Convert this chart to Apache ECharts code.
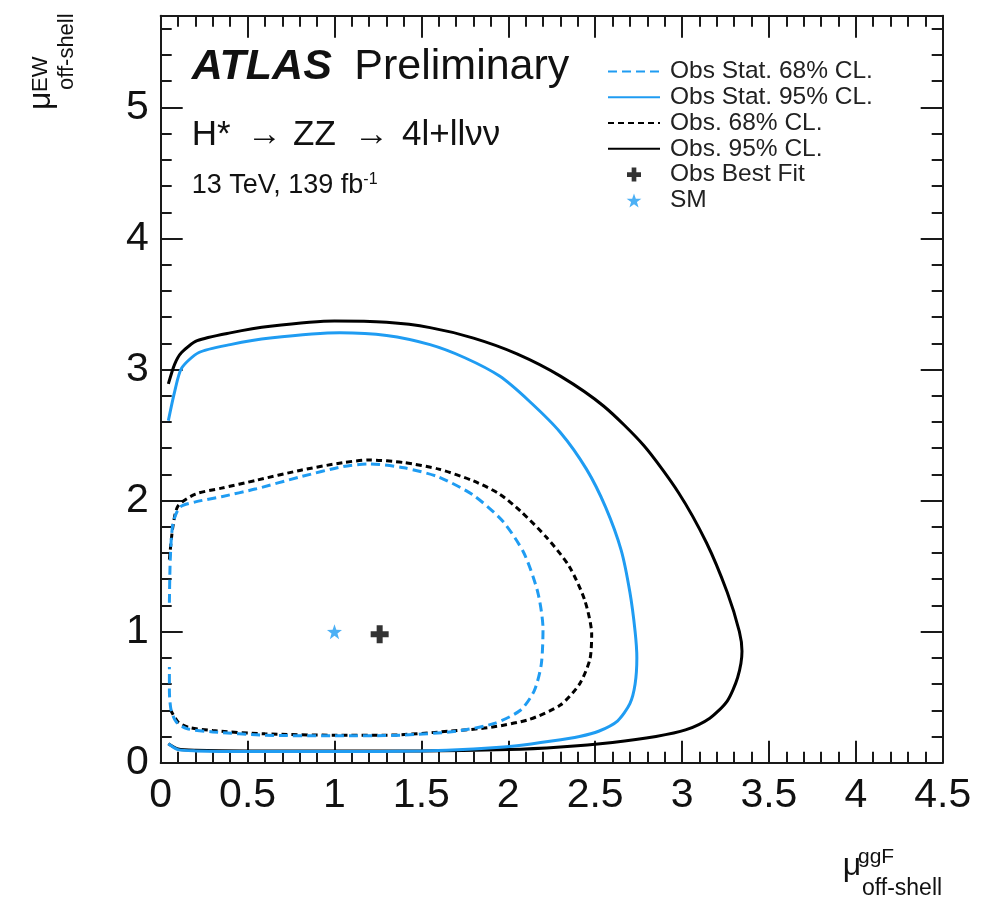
<!DOCTYPE html>
<html>
<head>
<meta charset="utf-8">
<script src="https://cdn.jsdelivr.net/npm/echarts@6/dist/echarts.min.js"></script>
<style>
  html, body { margin: 0; padding: 0; background: #fff; }
  #chart { width: 981px; height: 898px; }
</style>
</head>
<body>
<div id="chart"></div>
<script>
// Two-parameter likelihood contours: mu_ggF (x) vs mu_EW (y), off-shell signal strengths.
// Each contour is an open path that starts and ends on the left edge of the scan range.

const xTicks = [0, 0.5, 1, 1.5, 2, 2.5, 3, 3.5, 4, 4.5];
const yTicks = [0, 1, 2, 3, 4, 5];

// Obs. 95% CL. (stat + syst)
const obs95 = [
  [0.044, 2.89], [0.08, 3.04], [0.12, 3.13], [0.21, 3.22], [0.40, 3.28], [0.63, 3.33],
  [1.00, 3.37], [1.30, 3.36], [1.55, 3.32], [1.80, 3.24], [2.05, 3.12], [2.30, 2.95],
  [2.55, 2.72], [2.78, 2.42], [2.98, 2.06], [3.14, 1.68], [3.26, 1.30], [3.33, 1.00],
  [3.345, 0.85], [3.32, 0.65], [3.26, 0.47], [3.16, 0.34], [3.02, 0.25], [2.85, 0.20],
  [2.60, 0.155], [2.30, 0.12], [2.00, 0.10], [1.50, 0.09], [1.00, 0.09], [0.50, 0.09],
  [0.20, 0.095], [0.10, 0.105], [0.044, 0.145]
];

// Obs. 68% CL. (stat + syst)
const obs68 = [
  [0.05, 1.55], [0.07, 1.80], [0.10, 1.96], [0.20, 2.05], [0.35, 2.095], [0.55, 2.155],
  [0.80, 2.23], [1.05, 2.29], [1.20, 2.31], [1.40, 2.29], [1.60, 2.24], [1.80, 2.15],
  [1.95, 2.05], [2.07, 1.92], [2.22, 1.72], [2.35, 1.50], [2.44, 1.24], [2.48, 0.98],
  [2.47, 0.79], [2.41, 0.60], [2.30, 0.44], [2.12, 0.33], [1.90, 0.27], [1.66, 0.24],
  [1.30, 0.21], [1.00, 0.21], [0.60, 0.22], [0.30, 0.245], [0.16, 0.27], [0.10, 0.31],
  [0.05, 0.42]
];

// Obs Stat. 95% CL. (stat only)
const obsStat95 = [
  [0.044, 2.61], [0.08, 2.83], [0.12, 3.01], [0.22, 3.13], [0.40, 3.19], [0.63, 3.24],
  [1.03, 3.28], [1.30, 3.26], [1.55, 3.19], [1.75, 3.09], [1.95, 2.95], [2.12, 2.76],
  [2.30, 2.52], [2.45, 2.24], [2.56, 1.95], [2.65, 1.62], [2.70, 1.30], [2.73, 1.00],
  [2.74, 0.80], [2.73, 0.60], [2.70, 0.45], [2.63, 0.32], [2.52, 0.24], [2.41, 0.20],
  [2.25, 0.165], [2.05, 0.13], [1.80, 0.105], [1.50, 0.09], [1.00, 0.085], [0.50, 0.085],
  [0.20, 0.09], [0.10, 0.10], [0.044, 0.145]
];

// Obs Stat. 68% CL. (stat only)
const obsStat68 = [
  [0.05, 1.22], [0.055, 1.55], [0.07, 1.82], [0.11, 1.95], [0.20, 1.99], [0.35, 2.03],
  [0.55, 2.09], [0.80, 2.18], [1.05, 2.26], [1.20, 2.28], [1.40, 2.25], [1.60, 2.18],
  [1.80, 2.04], [1.97, 1.84], [2.09, 1.60], [2.17, 1.30], [2.20, 1.02], [2.19, 0.75],
  [2.15, 0.55], [2.07, 0.40], [1.92, 0.30], [1.70, 0.24], [1.38, 0.21], [1.00, 0.205],
  [0.60, 0.21], [0.30, 0.235], [0.15, 0.26], [0.09, 0.31], [0.06, 0.40], [0.05, 0.55],
  [0.05, 0.73]
];

const bestFit = [[1.26, 0.98]];
const smPoint = [[1.0, 1.0]];

const lineLegendNames = ['Obs Stat. 68% CL.', 'Obs Stat. 95% CL.', 'Obs. 68% CL.', 'Obs. 95% CL.'];
const markerLegendNames = ['Obs Best Fit', 'SM'];

const FONT = '"Liberation Sans", Arial, Helvetica, sans-serif';
const BLUE = '#1f9cf2';
const INK = '#111';
const FRAME = '#1a1a1a';

const CROSS = 'path://M3,0H6V3H9V6H6V9H3V6H0V3H3Z';
const STAR = 'path://M10,0L12.35,6.76L19.51,6.91L13.8,11.24L15.88,18.09L10,14L4.12,18.09L6.2,11.24L0.49,6.91L7.65,6.76Z';

const X_MIN = 0, X_MAX = 4.5, Y_MIN = 0, Y_MAX = 5.7;

function majorX(position, labels) {
  return {
    type: 'value', position, min: X_MIN, max: X_MAX, interval: 0.5,
    axisLine: { show: true, onZero: false, lineStyle: { color: FRAME, width: 2 } },
    axisTick: { show: true, inside: true, length: 22, lineStyle: { color: FRAME, width: 2 } },
    axisLabel: labels ? {
      show: true, fontSize: 41, fontFamily: FONT, color: INK, margin: 12,
      formatter: v => (xTicks.indexOf(Math.round(v * 10) / 10) >= 0 ? String(Math.round(v * 10) / 10) : '')
    } : { show: false },
    splitLine: { show: false }
  };
}
function minorX(position) {
  return {
    type: 'value', position, min: X_MIN, max: X_MAX, interval: 0.1,
    axisLine: { show: false, onZero: false },
    axisTick: { show: true, inside: true, length: 11, lineStyle: { color: FRAME, width: 2 } },
    axisLabel: { show: false }, splitLine: { show: false }
  };
}
function majorY(position, labels) {
  return {
    type: 'value', position, min: Y_MIN, max: Y_MAX, interval: 1,
    axisLine: { show: true, onZero: false, lineStyle: { color: FRAME, width: 2 } },
    axisTick: { show: true, inside: true, length: 22, lineStyle: { color: FRAME, width: 2 } },
    axisLabel: labels ? {
      show: true, fontSize: 41, fontFamily: FONT, color: INK, margin: 12,
      showMaxLabel: false,
      formatter: v => (yTicks.indexOf(v) >= 0 ? String(v) : '')
    } : { show: false },
    splitLine: { show: false }
  };
}
function minorY(position) {
  return {
    type: 'value', position, min: Y_MIN, max: Y_MAX, interval: 0.2,
    axisLine: { show: false, onZero: false },
    axisTick: { show: true, inside: true, length: 11, lineStyle: { color: FRAME, width: 2 } },
    axisLabel: { show: false }, splitLine: { show: false }
  };
}

function contour(name, data, color, dash) {
  return {
    name, type: 'line', data, xAxisIndex: 0, yAxisIndex: 0,
    symbol: 'none', showSymbol: false, smooth: 0.25, clip: true,
    lineStyle: { color, width: 3, type: dash || 'solid', cap: 'butt' },
    itemStyle: { color },
    emphasis: { disabled: true }
  };
}

function txt(text, x, y, size, extra) {
  return {
    type: 'text', x, y, silent: true,
    rotation: (extra && extra.rotation) || 0,
    style: Object.assign({
      text, fontSize: size, fontFamily: FONT, fill: INK,
      align: 'left', verticalAlign: 'middle'
    }, extra && extra.style)
  };
}

// legend entries: contour lines show only their line sample, markers show their symbol
const legendData = lineLegendNames.map(name => ({
  name,
  itemStyle: { color: 'rgba(0,0,0,0)', borderColor: 'rgba(0,0,0,0)', borderWidth: 0 }
})).concat(markerLegendNames.map(name => ({ name })));

const chart = echarts.init(document.getElementById('chart'), null, { renderer: 'canvas' });

chart.setOption({
  animation: false,
  backgroundColor: '#fff',
  grid: {
    left: 160.7, right: 38.3, top: 15.7, bottom: 135.3,
    containLabel: false, outerBoundsMode: 'none'
  },
  xAxis: [majorX('bottom', true), minorX('bottom'), majorX('top', false), minorX('top')],
  yAxis: [majorY('left', true), minorY('left'), majorY('right', false), minorY('right')],
  legend: {
    orient: 'vertical', left: 607, top: 58.5, padding: 0,
    itemWidth: 52, itemHeight: 14, itemGap: 0,
    data: legendData,
    selectedMode: false,
    textStyle: { fontSize: 24.5, fontFamily: FONT, color: '#222', lineHeight: 25.8, padding: [0, 0, 0, 5] }
  },
  series: [
    contour('Obs. 95% CL.', obs95, '#000'),
    contour('Obs. 68% CL.', obs68, '#000', [6, 4]),
    contour('Obs Stat. 95% CL.', obsStat95, BLUE),
    contour('Obs Stat. 68% CL.', obsStat68, BLUE, [9, 5]),
    {
      name: 'Obs Best Fit', type: 'scatter', data: bestFit,
      symbol: CROSS, symbolSize: 18, itemStyle: { color: '#000' }, z: 5
    },
    {
      name: 'SM', type: 'scatter', data: smPoint,
      symbol: STAR, symbolSize: 15, itemStyle: { color: BLUE }, z: 6
    }
  ],
  graphic: [
    txt('ATLAS', 191.7, 67.6, 43, { style: { fontWeight: 'bold', fontStyle: 'italic' } }),
    txt('Preliminary', 354.3, 67.6, 43),
    txt('H*', 191.7, 135, 35),
    txt('\u2192', 247, 135, 35),
    txt('ZZ', 293, 135, 35),
    txt('\u2192', 354, 135, 35),
    txt('4l+ll\u03bd\u03bd', 402, 135, 35),
    txt('{n|13 TeV, 139 fb}{s|-1}', 191.7, 185.5, 27, {
      style: { rich: { n: { fontSize: 27, fontFamily: FONT, fill: INK }, s: { fontSize: 16, fontFamily: FONT, fill: INK, verticalAlign: 'top' } } }
    }),
    // x-axis title
    txt('\u03bc', 842.7, 866, 32),
    txt('ggF', 858, 857.5, 21),
    txt('off-shell', 862, 889, 23),
    // y-axis title (rotated)
    txt('\u03bc', 41.5, 110, 32, { rotation: Math.PI / 2 }),
    txt('EW', 41, 92, 22, { rotation: Math.PI / 2 }),
    txt('off-shell', 67, 90, 22, { rotation: Math.PI / 2 })
  ]
});
</script>
</body>
</html>
